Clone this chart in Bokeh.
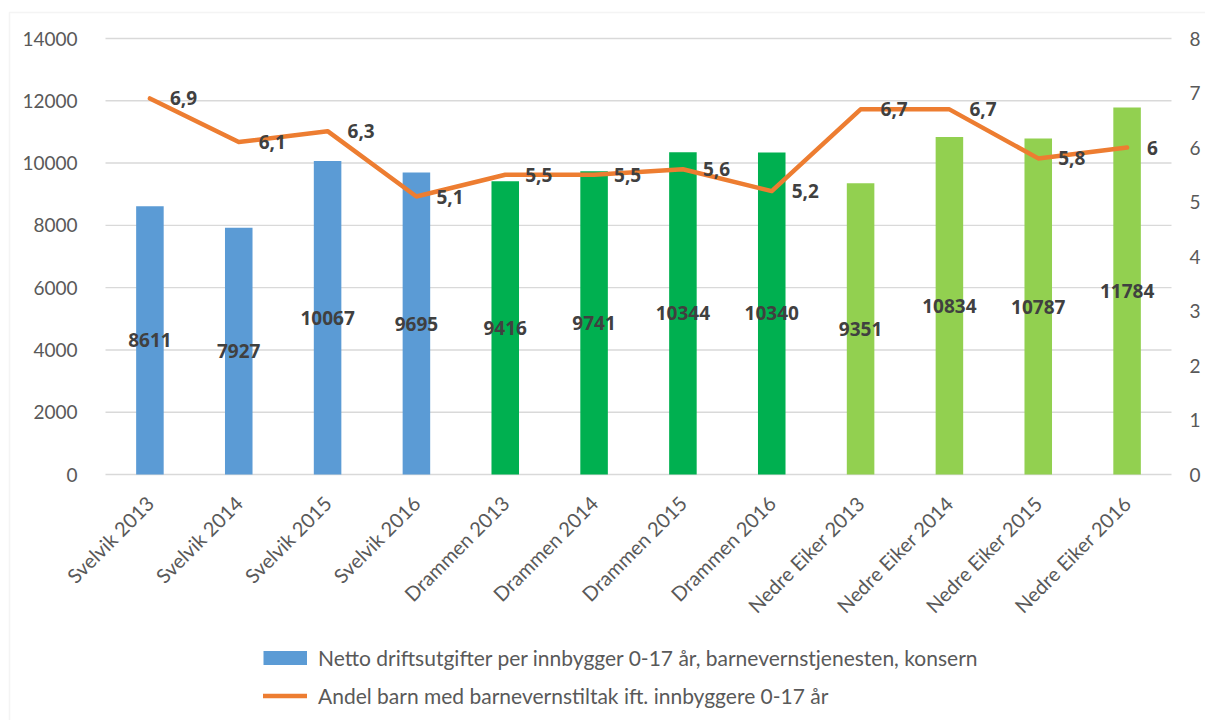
import math
from bokeh.plotting import figure
from bokeh.models import (ColumnDataSource, LinearAxis, Range1d, Legend, LegendItem,
                          LabelSet, FixedTicker, BoxAnnotation)
from bokeh.core.properties import value
from bokeh.embed import file_html
from bokeh.resources import INLINE

# ---- data ----
categories = ["Svelvik 2013", "Svelvik 2014", "Svelvik 2015", "Svelvik 2016",
              "Drammen 2013", "Drammen 2014", "Drammen 2015", "Drammen 2016",
              "Nedre Eiker 2013", "Nedre Eiker 2014", "Nedre Eiker 2015", "Nedre Eiker 2016"]
spending = [8611, 7927, 10067, 9695, 9416, 9741, 10344, 10340, 9351, 10834, 10787, 11784]
share = [6.9, 6.1, 6.3, 5.1, 5.5, 5.5, 5.6, 5.2, 6.7, 6.7, 5.8, 6.0]
left_ticks = [0, 2000, 4000, 6000, 8000, 10000, 12000, 14000]
right_ticks = [0, 1, 2, 3, 4, 5, 6, 7, 8]
bar_series_name = "Netto driftsutgifter per innbygger 0-17 år, barnevernstjenesten, konsern"
line_series_name = "Andel barn med barnevernstiltak ift. innbyggere 0-17 år"

# ---- styles ----
muni_colors = {"Svelvik": "#5B9BD5", "Drammen": "#00B050", "Nedre Eiker": "#92D050"}
ORANGE = "#ED7D31"
GRID = "#D9D9D9"
FONT = value("Lato")
BOLD_FONT = value("Noto Sans")
TICK_COLOR = "#595959"
LABEL_COLOR = "#404040"

# ---- layout (pixels) ----
W, H = 1205, 720
PLOT_L, PLOT_R = 105, 1171      # left / right edge of the category area
PLOT_T, PLOT_B = 38, 474        # pixel rows of the max value and of zero
LEFT_MAX, RIGHT_MAX = 14000, 8
n = len(categories)
upx = (PLOT_R - PLOT_L) / n                  # pixels per category
lpx = LEFT_MAX / (PLOT_B - PLOT_T)           # left-axis value per pixel
rpx = RIGHT_MAX / (PLOT_B - PLOT_T)          # right-axis value per pixel


def fmt_share(v):
    s = ("%.1f" % v).replace(".", ",")
    return s[:-2] if s.endswith(",0") else s


munis = [c.rsplit(" ", 1)[0] for c in categories]
src = ColumnDataSource(dict(
    xc=[i + 0.5 for i in range(n)],
    cat=categories,
    spend=spending,
    half=[v / 2 for v in spending],
    spend_txt=[str(v) for v in spending],
    color=[muni_colors[m] for m in munis],
    share=share,
    share_txt=[fmt_share(v) for v in share],
    zero=[0] * n,
))

x_start, x_end = -PLOT_L / upx, n + (W - PLOT_R) / upx
y_start, y_end = -(H - PLOT_B) * lpx, LEFT_MAX + PLOT_T * lpx

p = figure(width=W, height=H, output_backend="svg", toolbar_location=None,
           x_range=Range1d(x_start, x_end), y_range=Range1d(y_start, y_end),
           min_border_left=0, min_border_right=0, min_border_top=0, min_border_bottom=0)
p.outline_line_color = None
p.background_fill_color = "white"
p.border_fill_color = "white"
p.grid.visible = False
p.xaxis.visible = False

p.extra_y_ranges = {"share": Range1d(-(H - PLOT_B) * rpx, RIGHT_MAX + PLOT_T * rpx)}

# chart border
p.add_layout(BoxAnnotation(left=x_start + 9 / upx, right=x_end + 5, top=y_end - 12 * lpx,
                           bottom=y_start - 5000, fill_alpha=0, line_color=GRID,
                           line_width=1.5, level="underlay"))

# horizontal grid lines at the left-axis ticks
p.segment(x0=[0] * len(left_ticks), x1=[n] * len(left_ticks), y0=left_ticks, y1=left_ticks,
          line_color=GRID, line_width=1.4)

p.vbar(x="xc", top="spend", bottom=0, width=0.31, fill_color="color", line_color=None, source=src)
line_r = p.line(x="xc", y="share", y_range_name="share", line_color=ORANGE, line_width=4.5,
                line_cap="round", line_join="round", source=src)

# data labels
p.add_layout(LabelSet(x="xc", y="half", text="spend_txt", source=src, text_align="center",
                      text_baseline="middle", text_font=BOLD_FONT, text_font_style="bold",
                      text_font_size="19px", text_color=LABEL_COLOR))
p.add_layout(LabelSet(x="xc", y="share", text="share_txt", source=src, y_range_name="share",
                      x_offset=20, text_align="left", text_baseline="middle", text_font=BOLD_FONT,
                      text_font_style="bold", text_font_size="19px", text_color=LABEL_COLOR))

# category labels (rotated) under the zero line
p.add_layout(LabelSet(x="xc", y="zero", text="cat", source=src, angle=math.pi / 4,
                      x_offset=0, y_offset=-25, text_align="right", text_baseline="middle",
                      text_font=FONT, text_font_size="20px", text_color=TICK_COLOR))

# value axes, pinned to the edges of the category area
ax = p.yaxis[0]
ax.fixed_location = 0
ax.ticker = FixedTicker(ticks=left_ticks)
raxis = LinearAxis(y_range_name="share", ticker=FixedTicker(ticks=right_ticks))
raxis.fixed_location = n
p.add_layout(raxis, "right")
for a, standoff in ((ax, 22), (raxis, 12)):
    a.axis_line_color = None
    a.major_tick_line_color = None
    a.minor_tick_line_color = None
    a.major_label_text_font = "Lato"
    a.major_label_text_font_size = "19px"
    a.major_label_text_color = TICK_COLOR
    a.major_label_standoff = standoff

# legend
dummy_bar = p.line(x=[0, 0], y=[float("nan"), float("nan")],
                   line_color=muni_colors["Svelvik"], line_width=14, line_cap="butt")
legend = Legend(items=[LegendItem(label=bar_series_name, renderers=[dummy_bar]),
                       LegendItem(label=line_series_name, renderers=[line_r])],
                location=(263, 12), orientation="vertical",
                glyph_width=44, glyph_height=25, label_height=25, spacing=13,
                padding=0, margin=0, border_line_color=None, background_fill_alpha=0,
                label_standoff=11, label_text_font="Lato",
                label_text_font_size="21px", label_text_color=TICK_COLOR)
p.add_layout(legend, "center")

open("out.html", "w").write(file_html(p, INLINE))
